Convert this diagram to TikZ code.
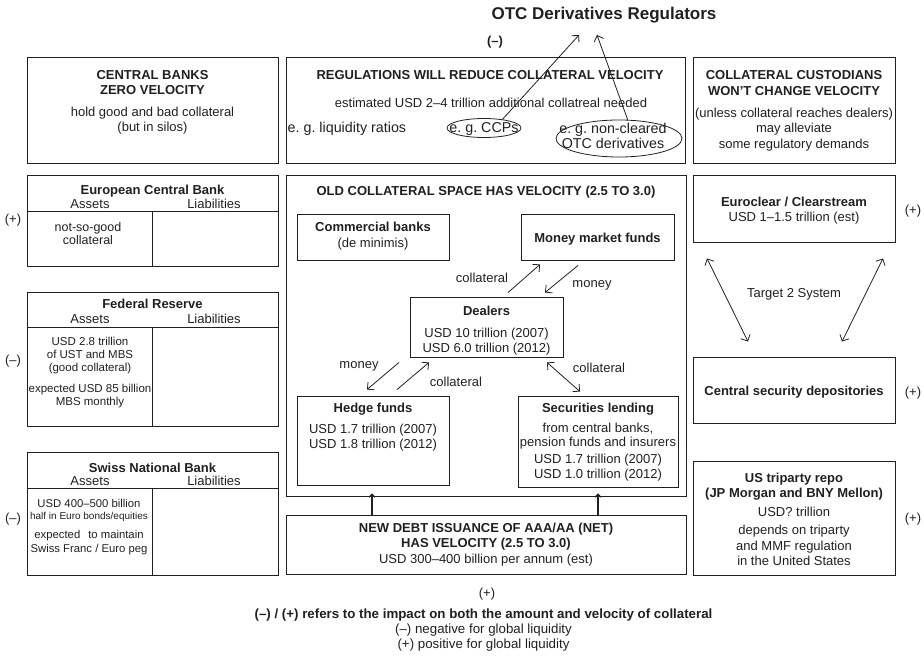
\documentclass[tikz,border=0pt]{standalone}
\usepackage{fontspec}
\setmainfont{Liberation Sans}
\usetikzlibrary{positioning, arrows.meta, shapes.geometric}
\definecolor{InkColor}{RGB}{35,31,32}
\tikzstyle{box} = [rectangle, draw=InkColor, line width=0.9pt, inner sep=0pt]
\tikzstyle{rule} = [draw=InkColor, line width=0.9pt]
\tikzstyle{oval} = [ellipse, draw=InkColor, line width=0.8pt, inner sep=0pt]
\tikzstyle{txt} = [inner sep=0pt, align=center, text=InkColor, font=\fontsize{13}{15}\selectfont]
\tikzstyle{smalltxt} = [txt, font=\fontsize{11.5}{13}\selectfont]
\tikzstyle{egtxt} = [txt, font=\fontsize{14.3}{15}\selectfont]
\tikzstyle{flow} = [InkColor, line width=0.8pt, -{Straight Barb[length=5pt,width=10pt]}]
\tikzstyle{twoway} = [InkColor, line width=0.8pt, {Straight Barb[length=5pt,width=10pt]}-{Straight Barb[length=5pt,width=10pt]}]
\tikzstyle{feed} = [InkColor, line width=1.1pt, -{Straight Barb[length=3pt,width=6pt]}]

\begin{document}
\frenchspacing
\begin{tikzpicture}[x=1pt, y=-1pt]
\useasboundingbox (0,0) rectangle (924,658);

% Regulators
\node[txt, font=\fontsize{17}{20}\selectfont\bfseries, anchor=base] (otc) at (604,20) {OTC Derivatives Regulators};
\node[txt, font=\fontsize{13}{15}\selectfont\bfseries, anchor=base] (regsign) at (495,46) {(–)};
\coordinate (otc1) at (579,35);
\coordinate (otc2) at (597,35);

% Top row
\node[box, minimum width=251pt, minimum height=106pt] (cb) at (152.5,110) {};
\node[txt, anchor=north] (cbtext) at (152.5,70.7) {\textbf{CENTRAL BANKS}\\ \textbf{ZERO VELOCITY}\\[7pt] hold good and bad collateral\\ (but in silos)};

\node[box, minimum width=399pt, minimum height=106pt] (reg) at (485.5,110) {};
\node[txt, anchor=base] (regtitle) at (490,80) {\textbf{REGULATIONS WILL REDUCE COLLATERAL VELOCITY}};
\node[txt, anchor=base] (regneed) at (491,108) {estimated USD 2–4 trillion additional collatreal needed};
\node[egtxt, anchor=base west] (regliq) at (287.5,133) {e. g. liquidity ratios};
\node[oval, minimum width=74pt, minimum height=19pt] (ccp) at (484,128) {};
\node[egtxt] (ccptext) at (484,129.3) {e. g. CCPs};
\node[oval, minimum width=126pt, minimum height=37pt] (otcd) at (619,138.5) {};
\node[egtxt] (otcdtext) at (613,135.5) {e. g. non-cleared\\ OTC derivatives};
\draw[flow] (ccp.25) -- (otc1);
\draw[flow] (otcd.65) -- (otc2);

\node[box, minimum width=202pt, minimum height=106pt] (cust) at (794,110) {};
\node[txt, anchor=north, font=\fontsize{13}{15.3}\selectfont] (custtext) at (794,70.7) {\textbf{COLLATERAL CUSTODIANS}\\ \textbf{WON'T CHANGE VELOCITY}\\[7pt] (unless collateral reaches dealers)\\ may alleviate\\ some regulatory demands};

% Central bank balance sheets
\node[box, minimum width=251pt, minimum height=91pt] (ecb) at (152.5,220.5) {};
\draw[rule] ([yshift=-37pt]ecb.north west) -- ([yshift=-37pt]ecb.north east);
\draw[rule] ([yshift=-37pt]ecb.north) -- (ecb.south);
\node[txt, anchor=base] (ecbname) at (152.5,194) {\textbf{European Central Bank}};
\node[txt, anchor=base] (ecbass) at (90,208) {Assets};
\node[txt, anchor=base] (ecbliab) at (214,208) {Liabilities};
\node[txt, anchor=north, font=\fontsize{12.5}{13}\selectfont] (ecbtext) at (88,222) {not-so-good\\ collateral};
\node[txt, anchor=base] (ecbsign) at (13,223) {(+)};

\node[box, minimum width=251pt, minimum height=134pt] (fed) at (152.5,359) {};
\draw[rule] ([yshift=-36pt]fed.north west) -- ([yshift=-36pt]fed.north east);
\draw[rule] ([yshift=-36pt]fed.north) -- (fed.south);
\node[txt, anchor=base] (fedname) at (152.5,308) {\textbf{Federal Reserve}};
\node[txt, anchor=base] (fedass) at (90,323) {Assets};
\node[txt, anchor=base] (fedliab) at (214,323) {Liabilities};
\node[smalltxt, anchor=north] (fedtext) at (90,336.6) {USD 2.8 trillion\\ of UST and MBS\\ (good collateral)\\[8pt] expected USD 85 billion\\ MBS monthly};
\node[txt, anchor=base] (fedsign) at (13,364) {(–)};

\node[box, minimum width=251pt, minimum height=123pt] (snb) at (152.5,513.5) {};
\draw[rule] ([yshift=-37pt]snb.north west) -- ([yshift=-37pt]snb.north east);
\draw[rule] ([yshift=-37pt]snb.north) -- (snb.south);
\node[txt, anchor=base] (snbname) at (152.5,472) {\textbf{Swiss National Bank}};
\node[txt, anchor=base] (snbass) at (90,485) {Assets};
\node[txt, anchor=base] (snbliab) at (214,485) {Liabilities};
\node[smalltxt, anchor=north, font=\fontsize{11.3}{13}\selectfont] (snbtext) at (89,498.8) {USD 400–500 billion\\[-1pt] {\fontsize{10}{12}\selectfont half in Euro bonds/equities}\\[6pt] expected\hspace{8pt}to maintain\\[1pt] Swiss Franc / Euro peg};
\node[txt, anchor=base] (snbsign) at (13,522) {(–)};

% Old collateral space
\node[box, minimum width=400pt, minimum height=321pt] (old) at (486,335.5) {};
\node[txt, anchor=base] (oldtitle) at (486,196) {\textbf{OLD COLLATERAL SPACE HAS VELOCITY (2.5 TO 3.0)}};

\node[box, minimum width=152pt, minimum height=46pt] (comm) at (373,237) {};
\node[txt, anchor=north, font=\fontsize{13}{16}\selectfont] (commtext) at (373,221.6) {\textbf{Commercial banks}\\ (de minimis)};

\node[box, minimum width=153pt, minimum height=46pt] (mmf) at (597.5,237) {};
\node[txt, anchor=base] (mmftext) at (597.5,242) {\textbf{Money market funds}};

\node[box, minimum width=153pt, minimum height=60pt] (dealers) at (486.5,327) {};
\node[txt, anchor=north] (dealerstext) at (486.5,305.6) {\textbf{Dealers}\\[7pt] USD 10 trillion (2007)\\ USD 6.0 trillion (2012)};

\node[box, minimum width=152pt, minimum height=89pt] (hedge) at (373,440.5) {};
\node[txt, anchor=north] (hedgetext) at (373,402.6) {\textbf{Hedge funds}\\[6pt] USD 1.7 trillion (2007)\\ USD 1.8 trillion (2012)};

\node[box, minimum width=160pt, minimum height=91pt] (sec) at (598,441.5) {};
\node[txt, anchor=north] (sectext) at (598,402.6) {\textbf{Securities lending}\\[5pt] from central banks,\\[-1pt] pension funds and insurers\\[2pt] USD 1.7 trillion (2007)\\ USD 1.0 trillion (2012)};

\draw[flow] ([shift={(21.5,-4)}]dealers.north) -- ([shift={(-57.5,4)}]mmf.south);
\draw[flow] ([shift={(-19.5,5)}]mmf.south) -- ([shift={(58.5,-4)}]dealers.north);
\draw[flow] ([shift={(-87.5,5)}]dealers.south) -- ([shift={(-6,-6)}]hedge.north);
\draw[flow] ([shift={(24,-6)}]hedge.north) -- ([shift={(-57.5,5)}]dealers.south);
\draw[twoway] ([shift={(60.5,5)}]dealers.south) -- ([shift={(-18,-4)}]sec.north);
\node[txt, anchor=base] (coll1) at (482,282) {collateral};
\node[txt, anchor=base] (money1) at (592,287) {money};
\node[txt, anchor=base] (money2) at (359,368) {money};
\node[txt, anchor=base] (coll2) at (456,386) {collateral};
\node[txt, anchor=base] (coll3) at (599,372) {collateral};

% New debt issuance
\node[box, minimum width=400pt, minimum height=59pt] (newdebt) at (486,544.5) {};
\node[txt, anchor=north, font=\fontsize{13}{15.5}\selectfont] (newdebttext) at (486,522.7) {\textbf{NEW DEBT ISSUANCE OF AAA/AA (NET)}\\ \textbf{HAS VELOCITY (2.5 TO 3.0)}\\ USD 300–400 billion per annum (est)};
\draw[feed] ([xshift=-114pt]newdebt.north) -- ([shift={(-114,-3)}]old.south);
\draw[feed] ([xshift=112pt]newdebt.north) -- ([shift={(112,-3)}]old.south);
\node[txt, anchor=base] (newdebtsign) at (487,597) {(+)};

% Custodians
\node[box, minimum width=202pt, minimum height=67pt] (euro) at (794,208.5) {};
\node[txt, anchor=north] (eurotext) at (794,196.7) {\textbf{Euroclear / Clearstream}\\ USD 1–1.5 trillion (est)};
\node[txt, anchor=base] (eurosign) at (913,214) {(+)};

\node[box, minimum width=202pt, minimum height=66pt] (csd) at (794,390) {};
\node[txt, anchor=base] (csdtext) at (794,395) {\textbf{Central security depositories}};
\node[txt, anchor=base] (csdsign) at (913,396) {(+)};

\draw[twoway] ([shift={(-87,16)}]euro.south) -- ([shift={(-46,-15)}]csd.north);
\draw[twoway] ([shift={(89,16)}]euro.south) -- ([shift={(48,-15)}]csd.north);
\node[txt, anchor=base] (target) at (794,297) {Target 2 System};

\node[box, minimum width=202pt, minimum height=114pt] (tri) at (794,518) {};
\node[txt, anchor=north, font=\fontsize{13}{15.7}\selectfont] (tritext) at (794,472.6) {\textbf{US triparty repo}\\ \textbf{(JP Morgan and BNY Mellon)}\\[3pt] USD? trillion\\[2pt] depends on triparty\\ and MMF regulation\\ in the United States};
\node[txt, anchor=base] (trisign) at (913,522) {(+)};

% Legend
\node[txt, anchor=north, font=\fontsize{13.3}{15}\selectfont] (legend) at (483.5,608.4) {\textbf{(–) / (+) refers to the impact on both the amount and velocity of collateral}\\ (–) negative for global liquidity\\ (+) positive for global liquidity};
\end{tikzpicture}
\end{document}
